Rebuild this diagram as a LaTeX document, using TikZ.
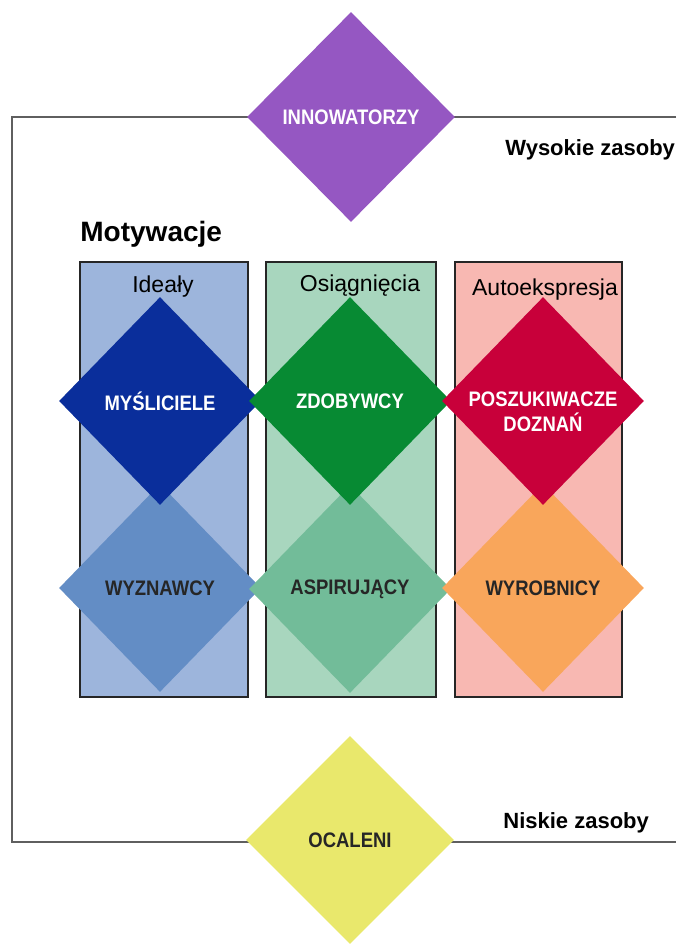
\documentclass[tikz,border=0pt]{standalone}
\usepackage{fontspec}
\setmainfont{Liberation Sans}
\newfontfamily\narrowfont[FakeStretch=0.88]{Liberation Sans}
\usetikzlibrary{shapes.geometric}

\definecolor{innov}{RGB}{149,87,194}
\definecolor{colblue}{RGB}{157,181,220}
\definecolor{colgreen}{RGB}{168,214,190}
\definecolor{colred}{RGB}{248,184,178}
\definecolor{thinker}{RGB}{10,46,155}
\definecolor{achiever}{RGB}{7,138,51}
\definecolor{experiencer}{RGB}{200,0,58}
\definecolor{believer}{RGB}{99,141,197}
\definecolor{striver}{RGB}{114,188,153}
\definecolor{maker}{RGB}{249,166,91}
\definecolor{survivor}{RGB}{233,232,108}
\definecolor{framegray}{RGB}{95,95,95}

\tikzset{
	seg/.style={diamond,aspect=1,inner sep=0pt,minimum width=101pt,minimum height=104pt,
		font=\narrowfont\bfseries\fontsize{10.5}{12.5}\selectfont,align=center},
	lightseg/.style={seg,text=white},
	darkseg/.style={seg,text=black!85},
	colbox/.style={draw=black!85,line width=1pt},
	head/.style={anchor=base,font=\fontsize{11.5}{13}\selectfont},
	side/.style={anchor=base west,inner sep=0pt,font=\bfseries\fontsize{11}{13}\selectfont}
}

\begin{document}
\begin{tikzpicture}[x=0.5pt,y=-0.5pt]
	\useasboundingbox (0,0) rectangle (676,945);
	\coordinate (ftr) at (676,117);
	\coordinate (ftl) at (12,117);
	\coordinate (fbl) at (12,842);
	\coordinate (fbr) at (676,842);
	\draw[framegray,line width=1pt] (ftr) -- (ftl) -- (fbl) -- (fbr);

	\filldraw[colbox,fill=colblue] (80,262) rectangle (248,697);
	\filldraw[colbox,fill=colgreen] (266,262) rectangle (436,697);
	\filldraw[colbox,fill=colred] (455,262) rectangle (622,697);

	\node[head] (ideal) at (163,293) {Ideały};
	\node[head] (osiag) at (360,292) {Osiągnięcia};
	\node[head] (autoe) at (545,296) {Autoekspresja};

	\node[darkseg,fill=believer] (wyz) at (160,588) {WYZNAWCY};
	\node[darkseg,fill=striver] (asp) at (350,589) {ASPIRUJĄCY};
	\node[darkseg,fill=maker] (wyr) at (543,588) {WYROBNICY};

	\node[lightseg,fill=thinker] (mys) at (160,401) {MYŚLICIELE};
	\node[lightseg,fill=achiever] (zdo) at (350,401) {ZDOBYWCY};
	\node[lightseg,fill=experiencer] (posz) at (543,401) {};
	\node[seg,text=white] (poszt) at ([yshift=-5.5pt]posz.center) {POSZUKIWACZE\\DOZNAŃ};

	\node[lightseg,fill=innov,minimum height=105pt,minimum width=104pt] (inn) at (351,117) {INNOWATORZY};
	\node[darkseg,fill=survivor,minimum width=104pt] (oca) at (350,840) {OCALENI};

	\node[side,font=\bfseries\fontsize{14}{16}\selectfont] (mot) at (80,242) {Motywacje};
	\node[side] (wys) at (505,156) {Wysokie zasoby};
	\node[side] (nis) at (503,828) {Niskie zasoby};
\end{tikzpicture}
\end{document}
